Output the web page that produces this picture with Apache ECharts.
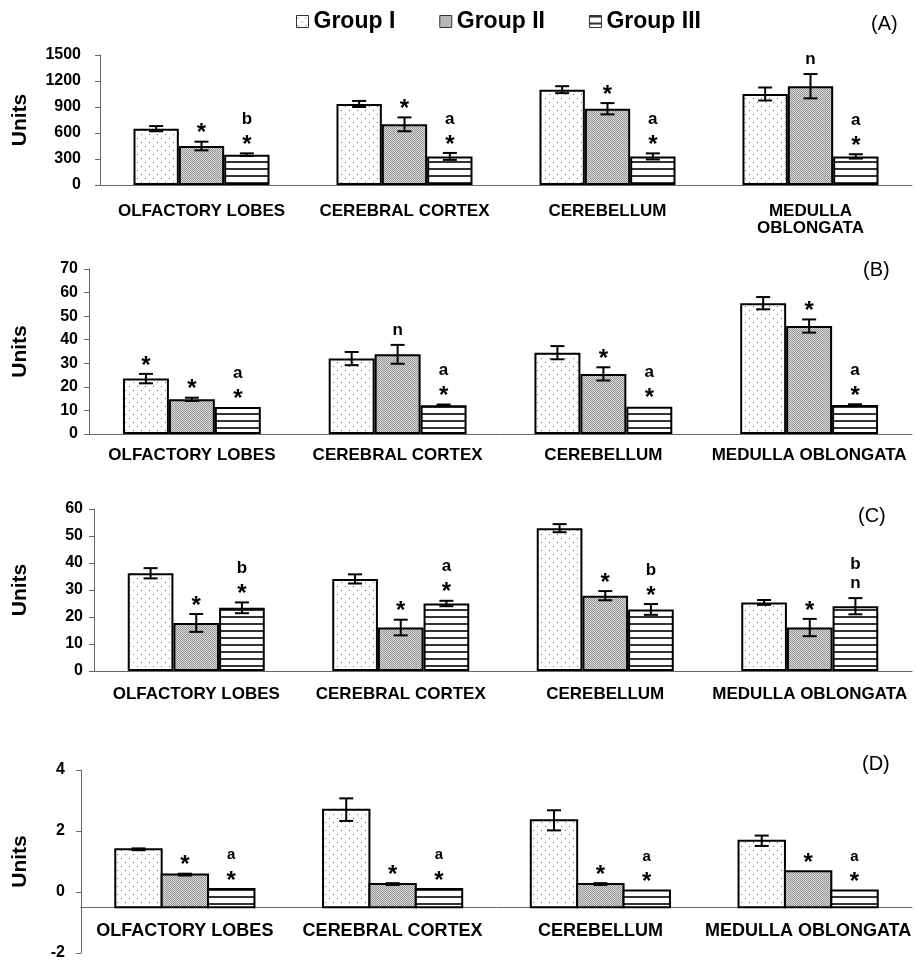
<!DOCTYPE html>
<html>
<head>
<meta charset="utf-8">
<script src="https://cdn.jsdelivr.net/npm/echarts@6/dist/echarts.min.js"></script>
<style>
  html, body { margin: 0; padding: 0; background: #fff; }
  #main { width: 917px; height: 960px; }
</style>
</head>
<body>
<div id="main"></div>
<script>
// categories
var regions = ['OLFACTORY LOBES', 'CEREBRAL CORTEX', 'CEREBELLUM', 'MEDULLA OBLONGATA'];
var regionsA = ['OLFACTORY LOBES', 'CEREBRAL CORTEX', 'CEREBELLUM', 'MEDULLA\nOBLONGATA'];
var groups = ['Group I', 'Group II', 'Group III'];

// panel A
var a1 = [650, 935, 1100, 1050], a1Err = [30, 35, 40, 75];
var a2 = [450, 700, 880, 1140], a2Err = [50, 80, 65, 140];
var a3 = [350, 330, 330, 330], a3Err = [15, 40, 35, 25];
var a1Note = ['', '', '', ''];
var a2Note = ['*', '*', '*', 'n'];
var a3Note = ['b\n*', 'a\n*', 'a\n*', 'a\n*'];

// panel B
var b1 = [23.5, 32, 34.5, 55.5], b1Err = [2, 2.8, 2.8, 2.6];
var b2 = [14.7, 33.8, 25.5, 45.8], b2Err = [0.7, 4, 2.8, 2.8];
var b3 = [11.5, 12.2, 11.6, 12.3], b3Err = [0, 0.3, 0, 0.3];
var b1Note = ['*', '', '', ''];
var b2Note = ['*', 'n', '*', '*'];
var b3Note = ['a\n*', 'a\n*', 'a\n*', 'a\n*'];

// panel C
var c1 = [36.2, 34.1, 52.9, 25.4], c1Err = [1.9, 1.7, 1.5, 0.9];
var c2 = [17.8, 16.1, 27.9, 16.1], c2Err = [3.3, 2.9, 1.7, 3.2];
var c3 = [23.4, 25, 22.8, 24], c3Err = [2, 1, 2, 3];
var c1Note = ['', '', '', ''];
var c2Note = ['*', '*', '*', '*'];
var c3Note = ['b\n*', 'a\n*', 'b\n*', 'b\nn'];

// panel D
var d1 = [1.4, 2.7, 2.35, 1.68], d1Err = [0.03, 0.37, 0.33, 0.17];
var d2 = [0.57, 0.26, 0.26, 0.68], d2Err = [0.03, 0.03, 0.03, 0];
var d3 = [0.1, 0.1, 0.05, 0.05], d3Err = [0, 0, 0, 0];
var d1Note = ['', '', '', ''];
var d2Note = ['*', '*', '*', '*'];
var d3Note = ['a\n*', 'a\n*', 'a\n*', 'a\n*'];
var dBase = -0.5;   // the category axis of panel D crosses here

var FONT = '"Liberation Sans", Arial, sans-serif';
var GAP = 0.33;

// fill patterns
function pattern(kind) {
    var c = document.createElement('canvas');
    var g = c.getContext('2d');
    if (kind == 'dots') {
        c.width = 8; c.height = 8;
        g.fillStyle = '#fff'; g.fillRect(0, 0, 8, 8);
        g.fillStyle = '#666';
        g.fillRect(1, 2, 1, 1); g.fillRect(5, 6, 1, 1);
    } else if (kind == 'grain') {
        c.width = 2; c.height = 2;
        g.fillStyle = '#d6d6d6'; g.fillRect(0, 0, 2, 2);
        g.fillStyle = '#999';
        g.fillRect(0, 0, 1, 1); g.fillRect(1, 1, 1, 1);
    } else {
        c.width = 4; c.height = 7;
        g.fillStyle = '#fff'; g.fillRect(0, 0, 4, 7);
        g.fillStyle = '#333'; g.fillRect(0, 0, 4, 2);
    }
    return { image: c, repeat: 'repeat' };
}
var fills = [pattern('dots'), pattern('grain'), pattern('lines')];

function barSeries(p, gi, vals) {
    return {
        type: 'bar', name: groups[gi], xAxisIndex: p, yAxisIndex: p,
        data: vals, barGap: 0, barCategoryGap: (GAP * 100) + '%',
        itemStyle: { color: fills[gi], borderColor: '#000', borderWidth: 2 },
        silent: true
    };
}

// bars of panel D start at the axis crossing, not at zero
function baseBarSeries(p, gi, vals) {
    return {
        type: 'custom', name: groups[gi], xAxisIndex: p, yAxisIndex: p, silent: true,
        data: vals.map(function (v, i) { return [i, v]; }),
        renderItem: function (params, api) {
            var i = api.value(0), v = api.value(1);
            var inner = api.size([1, 0])[0] * (1 - GAP), bw = inner / 3;
            var x0 = api.coord([i, v])[0] - inner / 2 + bw * gi;
            var yTop = api.coord([i, v])[1], yBot = api.coord([i, dBase])[1];
            return {
                type: 'rect',
                shape: { x: x0, y: yTop, width: bw, height: yBot - yTop },
                style: { fill: fills[gi], stroke: '#000', lineWidth: 2 }
            };
        }
    };
}

function errSeries(p, gi, vals, errs, notes, big) {
    return {
        type: 'custom', xAxisIndex: p, yAxisIndex: p, z: 5, silent: true,
        data: vals.map(function (v, i) { return [i, v, errs[i]]; }),
        renderItem: function (params, api) {
            var i = api.value(0), v = api.value(1), e = api.value(2);
            var inner = api.size([1, 0])[0] * (1 - GAP), bw = inner / 3;
            var cx = api.coord([i, v])[0] - inner / 2 + bw * (gi + 0.5);
            var yTop = api.coord([i, v + e])[1], yBot = api.coord([i, v - e])[1];
            var kids = [];
            if (e > 0) {
                var ln = { stroke: '#000', lineWidth: 2 };
                kids.push({ type: 'line', shape: { x1: cx, y1: yTop, x2: cx, y2: yBot }, style: ln });
                kids.push({ type: 'line', shape: { x1: cx - 7, y1: yTop, x2: cx + 7, y2: yTop }, style: ln });
                kids.push({ type: 'line', shape: { x1: cx - 7, y1: yBot, x2: cx + 7, y2: yBot }, style: ln });
            }
            var note = notes[params.dataIndex];
            if (note) {
                var lines = note.split('\n').reverse();
                lines.forEach(function (t, k) {
                    var star = t == '*';
                    var y = yTop - 15 - k * 19;
                    kids.push({
                        type: 'text',
                        style: {
                            text: t, x: cx, y: star ? y + 7 : y,
                            align: 'center', verticalAlign: 'middle',
                            font: 'bold ' + (star ? 24 : (big ? 17 : 15)) + 'px ' + FONT,
                            fill: '#000'
                        }
                    });
                });
            }
            return { type: 'group', children: kids };
        }
    };
}

function catAxis(p, data, margin, size, show) {
    return {
        type: 'category', gridIndex: p, data: data, show: show !== false,
        axisLine: { onZero: false, lineStyle: { color: '#666', width: 1 } },
        axisTick: { length: 5, lineStyle: { color: '#666' } },
        axisLabel: {
            interval: 0, margin: margin, color: '#000', fontWeight: 'bold',
            fontSize: size, fontFamily: FONT, lineHeight: 17
        }
    };
}

function valAxis(p, min, max, step, gap, margin, show) {
    return {
        type: 'value', gridIndex: p, min: min, max: max, interval: step, show: show !== false,
        name: 'Units', nameLocation: 'middle', nameGap: gap,
        nameTextStyle: { color: '#000', fontWeight: 'bold', fontSize: 21, fontFamily: FONT },
        axisLine: { show: true, lineStyle: { color: '#666', width: 1 } },
        axisTick: { show: true, length: 5, lineStyle: { color: '#666' } },
        splitLine: { show: false },
        axisLabel: {
            margin: margin, color: '#000', fontWeight: 'bold', fontSize: 16, fontFamily: FONT,
            formatter: function (v) { return '' + v; }
        }
    };
}

var chart = echarts.init(document.getElementById('main'));

var series = [];
var sets = [
    [a1, a2, a3, a1Err, a2Err, a3Err, a1Note, a2Note, a3Note],
    [b1, b2, b3, b1Err, b2Err, b3Err, b1Note, b2Note, b3Note],
    [c1, c2, c3, c1Err, c2Err, c3Err, c1Note, c2Note, c3Note]
];
sets.forEach(function (s, p) {
    for (var gi = 0; gi < 3; gi++) series.push(barSeries(p, gi, s[gi]));
    for (var gi = 0; gi < 3; gi++) series.push(errSeries(p, gi, s[gi], s[gi + 3], s[gi + 6], true));
});
var dVals = [d1, d2, d3], dErrs = [d1Err, d2Err, d3Err], dNotes = [d1Note, d2Note, d3Note];
for (var gi = 0; gi < 3; gi++) series.push(baseBarSeries(4, gi, dVals[gi]));
for (var gi = 0; gi < 3; gi++) series.push(errSeries(4, gi, dVals[gi], dErrs[gi], dNotes[gi], false));

function grid(left, top, height) {
    return { left: left, right: 5, top: top, height: height, outerBoundsMode: 'none', containLabel: false };
}

chart.setOption({
    animation: false,
    textStyle: { fontFamily: FONT },
    legend: {
        data: groups, left: 291, top: 5, itemWidth: 12, itemHeight: 12, itemGap: 44,
        icon: 'rect', selectedMode: false,
        itemStyle: { borderColor: '#333', borderWidth: 1 },
        textStyle: { color: '#000', fontWeight: 'bold', fontSize: 23, fontFamily: FONT }
    },
    title: [
        { text: '(A)', left: 866, top: 9 },
        { text: '(B)', left: 858, top: 255 },
        { text: '(C)', left: 853, top: 501 },
        { text: '(D)', left: 857, top: 749 }
    ].map(function (t) {
        t.textStyle = { fontWeight: 'normal', fontSize: 20, color: '#000', fontFamily: FONT };
        return t;
    }),
    grid: [
        grid(100, 55, 130),
        grid(89, 269, 165),
        grid(94, 509, 162),
        grid(81, 770, 183),
        grid(81, 770, 137.25)
    ],
    xAxis: [
        catAxis(0, regionsA, 18, 17),
        catAxis(1, regions, 13, 17),
        catAxis(2, regions, 15, 17),
        catAxis(3, regions, 15, 18, false),
        catAxis(4, regions, 15, 18)
    ],
    yAxis: [
        valAxis(0, 0, 1500, 300, 69, 19),
        valAxis(1, 0, 70, 10, 58, 11),
        valAxis(2, 0, 60, 10, 63, 11),
        valAxis(3, -2, 4, 2, 50, 16),
        valAxis(4, dBase, 4, 0.5, 0, 0, false)
    ],
    series: series
});
</script>
</body>
</html>
